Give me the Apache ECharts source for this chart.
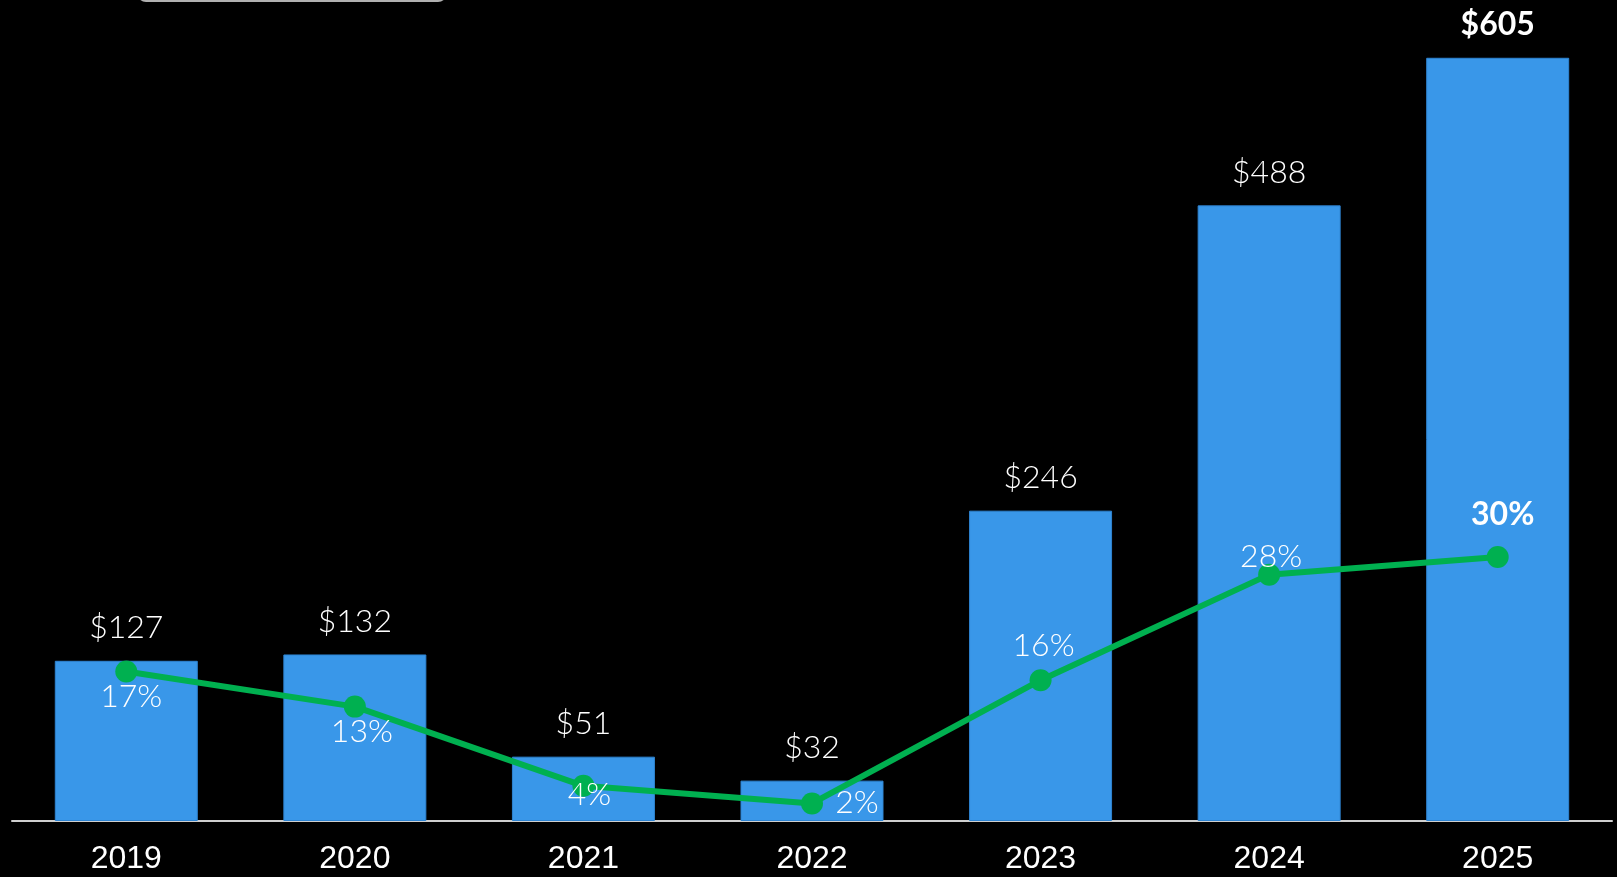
<!DOCTYPE html>
<html>
<head>
<meta charset="utf-8">
<style>
html,body{margin:0;padding:0;background:#000;}
#chart{width:1617px;height:877px;}
</style>
<script src="https://cdn.jsdelivr.net/npm/echarts@6/dist/echarts.min.js"></script>
</head>
<body>
<div id="chart"></div>
<script>
const years = ['2019','2020','2021','2022','2023','2024','2025'];
const amounts = [127, 132, 51, 32, 246, 488, 605];
const shares = [17, 13, 4, 2, 16, 28, 30];
const amountLabels = ['$127','$132','$51','$32','$246','$488','$605'];
const shareLabels = ['17%','13%','4%','2%','16%','28%','30%'];
const shareLabelOffsets = [[5,25],[7,25],[6,9],[45,-1],[3,-35],[2,-18],[5,-42]];

const chart = echarts.init(document.getElementById('chart'));
const labelFont = 'Lato, "Open Sans", sans-serif';

const barData = amounts.map((v, i) => ({
  value: v,
  label: {
    formatter: amountLabels[i],
    fontWeight: i === amounts.length - 1 ? 700 : 300
  }
}));
const lineData = shares.map((v, i) => ({
  value: v,
  label: {
    formatter: shareLabels[i],
    offset: shareLabelOffsets[i],
    fontWeight: i === shares.length - 1 ? 700 : 300
  }
}));

chart.setOption({
  backgroundColor: '#000',
  animation: false,
  grid: { left: 12, right: 5, top: 1, bottom: 56 },
  xAxis: {
    type: 'category',
    data: years,
    axisLine: { lineStyle: { color: '#CFCFCF', width: 2 } },
    axisTick: { show: false },
    axisLabel: { color: '#fff', fontFamily: '"Liberation Sans", Arial, sans-serif', fontSize: 32, margin: 22 }
  },
  yAxis: [
    { type: 'value', min: 0, max: 650, show: false, splitLine: { show: false } },
    { type: 'value', min: 0, max: 93.2, show: false, splitLine: { show: false } }
  ],
  graphic: [{
    type: 'rect',
    shape: { x: 138, y: -30, width: 308, height: 31, r: 8 },
    style: { fill: '#000', stroke: '#B0B0B0', lineWidth: 2 }
  }],
  series: [
    {
      type: 'bar',
      data: barData,
      barWidth: 143,
      itemStyle: { color: '#3997E9', borderColor: '#2E84D2', borderWidth: 1 },
      label: {
        show: true,
        position: 'top',
        distance: 17,
        color: '#fff',
        fontFamily: labelFont,
        fontSize: 32
      }
    },
    {
      type: 'line',
      yAxisIndex: 1,
      data: lineData,
      symbol: 'circle',
      symbolSize: 22,
      lineStyle: { color: '#00B050', width: 6 },
      itemStyle: { color: '#00B050' },
      z: 5,
      label: {
        show: true,
        position: 'inside',
        color: '#fff',
        fontFamily: labelFont,
        fontSize: 32
      }
    }
  ]
});
</script>
</body>
</html>
